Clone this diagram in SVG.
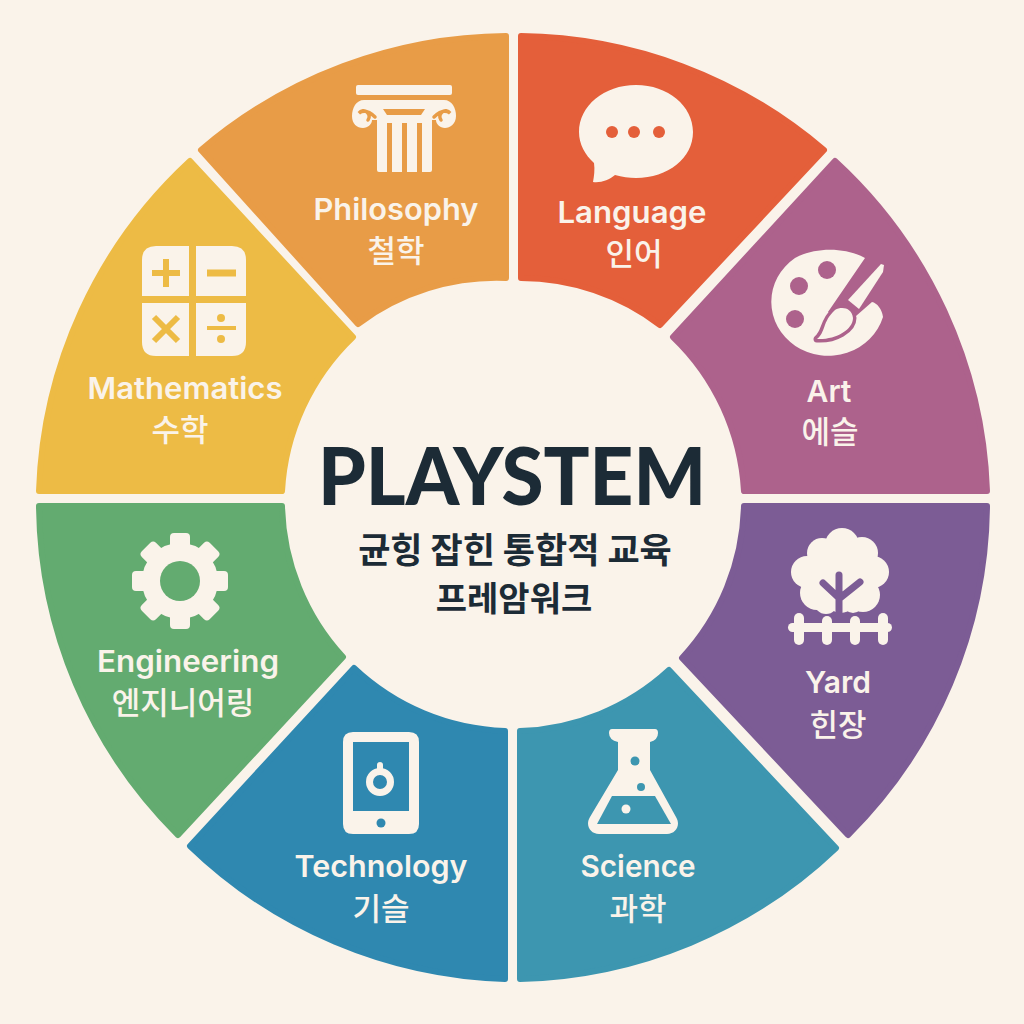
<svg xmlns="http://www.w3.org/2000/svg" width="1024" height="1024" viewBox="0 0 1024 1024">
<style>
.w{stroke-width:6;stroke-linejoin:round}
.c{fill:#faf3ea}
.t{fill:#faf3ea;font-family:"Inter","Noto Sans","Noto Sans CJK KR",sans-serif;font-weight:600;font-size:30px;text-anchor:middle}
.k{font-family:"Noto Sans CJK KR","Noto Sans",sans-serif;font-size:31px;font-weight:500}
.d{fill:#1c2b36;text-anchor:middle;font-family:"Noto Sans CJK KR","Noto Sans",sans-serif;font-weight:700}
</style>
<rect width="1024" height="1024" fill="#faf3ea"/>
<g id="philosophy">
<path class="w" fill="#e89c47" stroke="#e89c47" d="M506 36A474 471.500 0 0 0 201 150L358 324A231 231 0 0 1 506 278Z"/>
<rect class="c" x="356" y="85" width="96" height="10" rx="2"/>
<path class="c" d="M364 100H444C452 100 456 108 456 116C456 124 450 128 445 128C440 128 436 124 436 120H432V170Q432 172 430 172H379Q377 172 377 170V120H372C372 124 368 128 363 128C357 128 352 124 352 116C352 108 356 100 364 100Z"/>
<g fill="#e89c47"><path d="M383 109H425L421 115H387Z"/><rect x="387" y="123" width="5" height="49"/><rect x="402" y="123" width="5" height="49"/><rect x="417" y="123" width="5" height="49"/></g>
<path fill="none" stroke="#e89c47" stroke-width="3.500" stroke-linecap="round" d="M368 120A5 5 0 1 0 359 113Q366 108 375 117M441 120A5 5 0 1 1 450 113Q443 108 434 117"/>
<text class="t" x="396" y="220" textLength="165" lengthAdjust="spacingAndGlyphs">Philosophy</text>
<text class="t k" x="396" y="262">철학</text>
</g>
<g id="language">
<path class="w" fill="#e45f3a" stroke="#e45f3a" d="M521 36A474 471.500 0 0 1 824 150L660 325A231 231 0 0 0 521 278Z"/>
<path class="c" d="M636 85C668 85 693 106 693 132C693 158 668 178 636 178C629 178 622 177 615 175C609 180 601 183 593 182C594 176 595 170 594 163C585 155 579 144 579 132C579 106 604 85 636 85Z"/>
<g fill="#e45f3a"><circle cx="612" cy="132" r="6"/><circle cx="634" cy="132" r="6"/><circle cx="659" cy="132" r="6"/></g>
<text class="t" x="632" y="223" textLength="149" lengthAdjust="spacingAndGlyphs">Language</text>
<text class="t k" x="634" y="265">인어</text>
</g>
<g id="art">
<path class="w" fill="#ad628c" stroke="#ad628c" d="M835 161A474 471.500 0 0 1 987 491H744A231 231 0 0 0 673 337Z"/>
<path class="c" d="M865 258C845 247 815 247 795 258A57 54 0 1 0 883 317C882 309 877 303 872 302L856 316L848 318L828 312Z"/>
<circle cx="827" cy="270" r="9" fill="#ad628c"/><circle cx="799" cy="286" r="9" fill="#ad628c"/><circle cx="795" cy="319" r="9" fill="#ad628c"/>
<path class="c" d="M881 264L884 265L883 272L859 309L848 300Z"/>
<path class="c" stroke="#ad628c" stroke-width="7" paint-order="stroke" stroke-linejoin="round" d="M835 310C842 306 852 308 853 318C853 330 835 340 817 339C826 332 822 322 835 310Z"/>
<text class="t" x="829" y="402">Art</text>
<text class="t k" x="830" y="443">에슬</text>
</g>
<g id="yard">
<path class="w" fill="#7c5c95" stroke="#7c5c95" d="M987 506A474 471.500 0 0 1 848 835L682 658A231 231 0 0 0 744 506Z"/>
<g class="c"><circle cx="842" cy="545" r="17"/><circle cx="822" cy="553" r="15"/><circle cx="862" cy="553" r="16"/><circle cx="807" cy="572" r="16"/><circle cx="873" cy="572" r="16"/><circle cx="817" cy="593" r="17"/><circle cx="863" cy="595" r="17"/><circle cx="841" cy="574" r="30"/><circle cx="841" cy="598" r="15"/><circle cx="826" cy="602" r="12"/><circle cx="853" cy="603" r="10"/></g>
<path fill="none" stroke="#7c5c95" stroke-width="7" stroke-linecap="round" d="M839 575V616M823 583L839 598M860 582L840 598"/>
<g class="c"><rect x="788" y="623" width="104" height="9" rx="4.500"/><rect x="794" y="613" width="10" height="32" rx="5"/><rect x="822" y="616" width="10" height="29" rx="5"/><rect x="850" y="616" width="10" height="29" rx="5"/><rect x="878" y="613" width="10" height="32" rx="5"/></g>
<text class="t" x="838" y="693">Yard</text>
<text class="t k" x="838" y="736">힌장</text>
</g>
<g id="science">
<path class="w" fill="#3d96b0" stroke="#3d96b0" d="M836 848A474 471.500 0 0 1 520 979V731A231 231 0 0 0 669 670Z"/>
<path class="c" d="M612 729H655Q658 729 658 733Q658 740 650 742V770L676 817C681 825 676 834 667 834H599C590 834 585 825 590 817L618 770V742Q609 740 609 733Q609 729 612 729Z"/>
<g fill="#3d96b0"><circle cx="635" cy="761" r="4.500"/><circle cx="641" cy="787" r="4"/><path d="M612 796H655L671 824H597Z"/></g>
<circle class="c" cx="626" cy="809" r="4.500"/>
<text class="t" x="638" y="877" textLength="115" lengthAdjust="spacingAndGlyphs">Science</text>
<text class="t k" x="638" y="920">과학</text>
</g>
<g id="technology">
<path class="w" fill="#2f88b0" stroke="#2f88b0" d="M505 979A474 471.500 0 0 1 190 846L354 668A231 231 0 0 0 505 731Z"/>
<path class="c" fill-rule="evenodd" d="M353 732H409Q419 732 419 742V824Q419 834 409 834H353Q343 834 343 824V742Q343 732 353 732ZM353 742V811H409V742Z"/>
<circle cx="380" cy="782" r="10.500" fill="none" stroke="#faf3ea" stroke-width="7"/>
<rect class="c" x="377" y="762" width="6" height="12" rx="3"/>
<circle cx="381" cy="823" r="4.500" fill="#2f88b0"/>
<text class="t" x="381" y="877" textLength="173" lengthAdjust="spacingAndGlyphs">Technology</text>
<text class="t k" x="381" y="920">기슬</text>
</g>
<g id="engineering">
<path class="w" fill="#63ab70" stroke="#63ab70" d="M178 835A474 471.500 0 0 1 39 506H282A231 231 0 0 0 343 657Z"/>
<g class="c"><rect x="170" y="533" width="20" height="96" rx="4"/><rect x="170" y="533" width="20" height="96" rx="4" transform="rotate(45 180 581)"/><rect x="170" y="533" width="20" height="96" rx="4" transform="rotate(90 180 581)"/><rect x="170" y="533" width="20" height="96" rx="4" transform="rotate(135 180 581)"/></g>
<circle cx="180" cy="581" r="29" fill="none" stroke="#faf3ea" stroke-width="18"/>
<circle cx="180" cy="581" r="20" fill="#63ab70"/>
<text class="t" x="188" y="672" textLength="182" lengthAdjust="spacingAndGlyphs">Engineering</text>
<text class="t k" x="183" y="714">엔지니어링</text>
</g>
<g id="mathematics">
<path class="w" fill="#edbb45" stroke="#edbb45" d="M39 491A474 471.500 0 0 1 190 161L353 337A231 231 0 0 0 282 491Z"/>
<g class="c"><path d="M156 246H189V296H142V260Q142 246 156 246Z"/><path d="M196 246H232Q246 246 246 260V296H196Z"/><path d="M142 303H189V356H156Q142 356 142 342Z"/><path d="M196 303H246V342Q246 356 232 356H196Z"/></g>
<path fill="none" stroke="#edbb45" stroke-width="6" d="M152 273H180M166 259V287M154 317L178 341M178 317L154 341"/>
<path fill="none" stroke="#edbb45" stroke-width="7" d="M207 273H236"/>
<path fill="none" stroke="#edbb45" stroke-width="4" d="M207 328H236"/>
<g fill="#edbb45"><circle cx="221" cy="318" r="4"/><circle cx="221" cy="339" r="4"/></g>
<text class="t" x="185" y="399" textLength="195" lengthAdjust="spacingAndGlyphs">Mathematics</text>
<text class="t k" x="180" y="441">수학</text>
</g>
<g id="center">
<text class="d" x="512" y="505" font-size="80" style="font-family:Lato,'Noto Sans',sans-serif;font-weight:900" textLength="388" lengthAdjust="spacingAndGlyphs">PLAYSTEM</text>
<text class="d" x="515" y="563" font-size="35">균힝 잡힌 통합적 교육</text>
<text class="d" x="514" y="611" font-size="34">프레암워크</text>
</g>
</svg>
